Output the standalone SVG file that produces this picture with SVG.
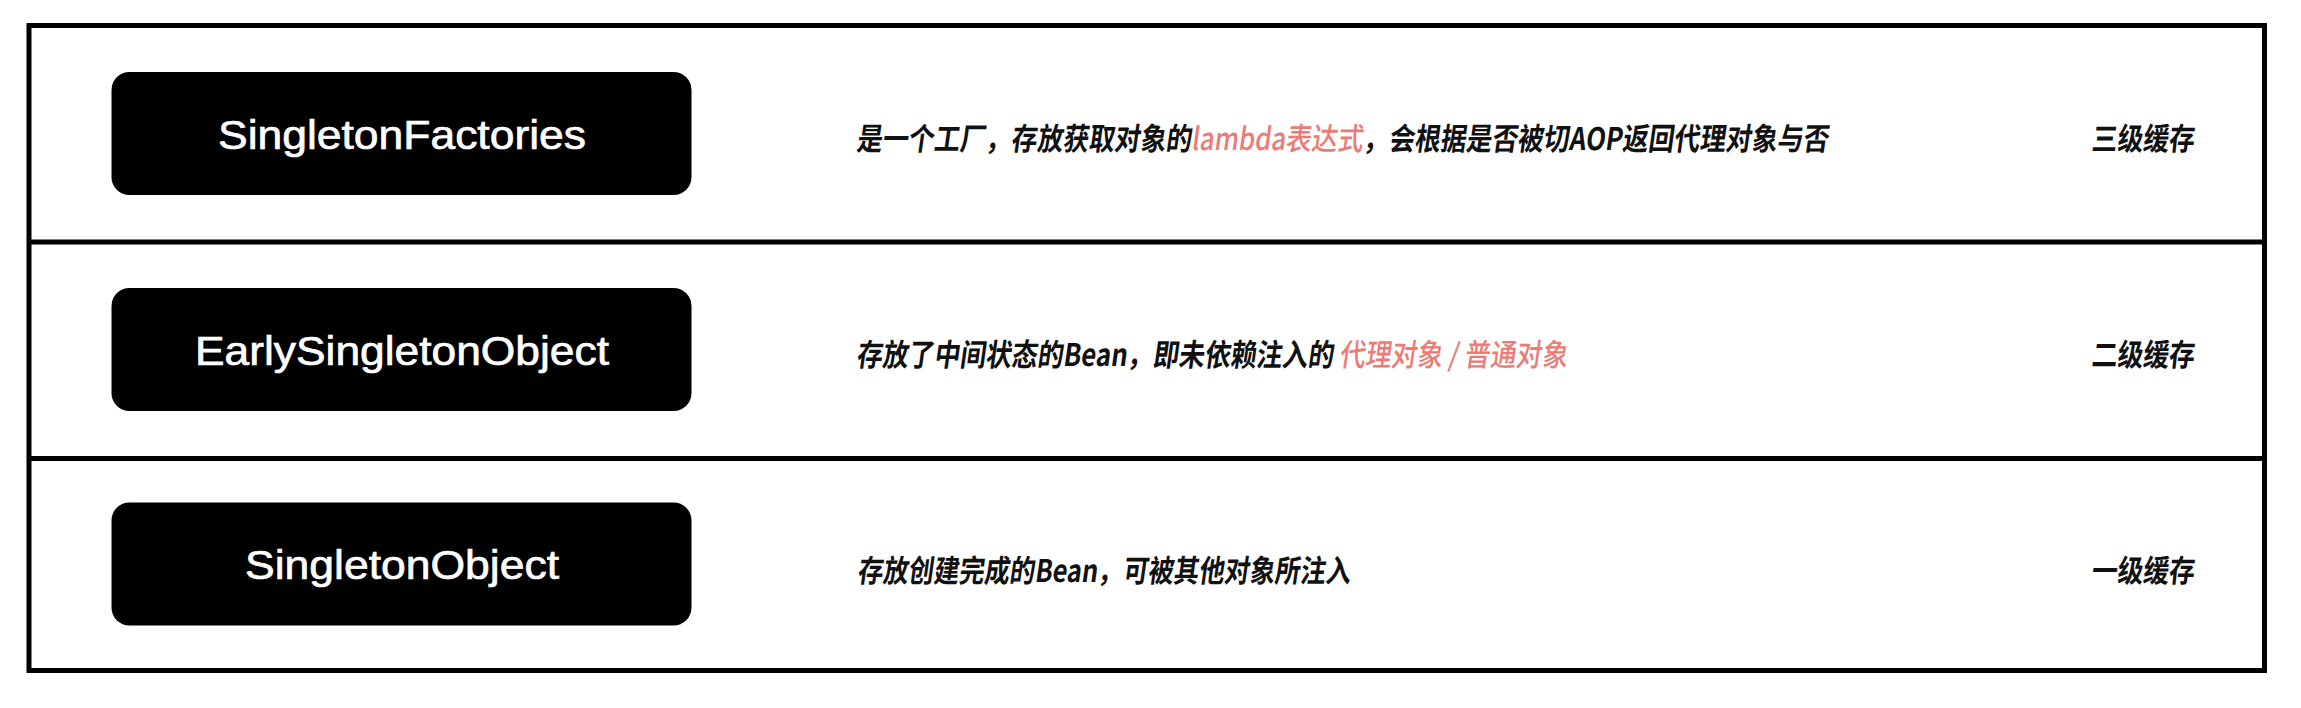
<svg xmlns="http://www.w3.org/2000/svg" width="2301" height="708" viewBox="0 0 2301 708">
<style>
.frame{fill:none;stroke:#000;stroke-width:5}
.div{stroke:#000;stroke-width:5}
.box{fill:#000}
.name{fill:#fff;stroke:#fff;stroke-width:0.7px;font-family:"Liberation Sans",Arial,sans-serif;font-size:41px;text-anchor:start}
.desc{fill:#111;font-family:"Noto Sans CJK SC","Noto Sans",sans-serif;font-weight:700;font-size:31px}
.red{fill:#EC7B75;font-weight:500}
</style>
<rect width="2301" height="708" fill="#fff"/>
<g id="table">
<rect class="frame" x="29" y="25.5" width="2235.5" height="645"/>
<line class="div" x1="29" y1="242" x2="2264.5" y2="242"/>
<line class="div" x1="29" y1="458.5" x2="2264.5" y2="458.5"/>
</g>
<g id="connectors"></g>
<g id="singletonFactories">
<rect class="box" x="111.5" y="72" width="580" height="123" rx="18"/>
<text class="name" x="218" y="149" textLength="368" lengthAdjust="spacingAndGlyphs">SingletonFactories</text>
</g>
<g id="earlySingletonObject">
<rect class="box" x="111.5" y="288" width="580" height="123" rx="18"/>
<text class="name" x="195" y="365" textLength="414" lengthAdjust="spacingAndGlyphs">EarlySingletonObject</text>
</g>
<g id="singletonObject">
<rect class="box" x="111.5" y="502.5" width="580" height="123" rx="18"/>
<text class="name" x="245" y="579" textLength="314" lengthAdjust="spacingAndGlyphs">SingletonObject</text>
</g>
<g id="desc1" transform="translate(0,149.5) skewX(-8)">
<text class="desc" x="856" y="0" textLength="972" lengthAdjust="spacingAndGlyphs">是一个工厂，存放获取对象的<tspan class="red">lambda表达式</tspan>，会根据是否被切AOP返回代理对象与否</text>
</g>
<g id="desc2" transform="translate(0,366) skewX(-8)">
<text class="desc" x="856" y="0" textLength="711" lengthAdjust="spacingAndGlyphs">存放了中间状态的Bean，即未依赖注入的 <tspan class="red">代理对象 / 普通对象</tspan></text>
</g>
<g id="desc3" transform="translate(0,582) skewX(-8)">
<text class="desc" x="857" y="0" textLength="493" lengthAdjust="spacingAndGlyphs">存放创建完成的Bean，可被其他对象所注入</text>
</g>
<g id="level3" transform="translate(0,150) skewX(-6)">
<text class="desc" x="2091" y="0" textLength="103" lengthAdjust="spacingAndGlyphs">三级缓存</text>
</g>
<g id="level2" transform="translate(0,366) skewX(-6)">
<text class="desc" x="2091" y="0" textLength="103" lengthAdjust="spacingAndGlyphs">二级缓存</text>
</g>
<g id="level1" transform="translate(0,582) skewX(-6)">
<text class="desc" x="2091" y="0" textLength="103" lengthAdjust="spacingAndGlyphs">一级缓存</text>
</g>
</svg>
